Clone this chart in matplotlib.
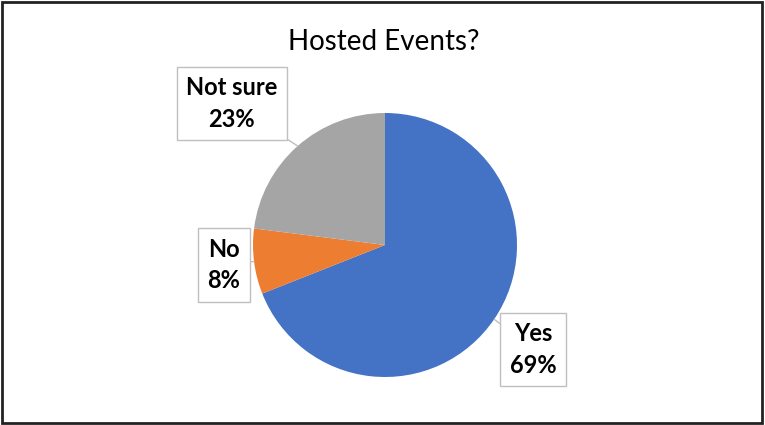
import numpy as np
import matplotlib
matplotlib.use("Agg")
import matplotlib.pyplot as plt
from matplotlib.patches import Rectangle

# -----------------------------
# Datos del grafico
# -----------------------------
categorias = ["Yes", "No", "Not sure"]
valores = [69, 8, 23]
colores = ["#4472C4", "#ED7D31", "#A5A5A5"]
titulo = "Hosted Events?"

# posiciones de las etiquetas (coordenadas del eje, radio = 1)
pos_etiquetas = [(1.12, -0.79), (-1.22, -0.15), (-1.16, 1.07)]

plt.rcParams['font.family'] = ['Lato', 'DejaVu Sans']

fig = plt.figure(figsize=(7.65, 4.25), dpi=100)
W, H = 765, 425
cx, cy, r = 385, 245, 132

ax = fig.add_axes([(cx - r) / W, (H - cy - r) / H, 2 * r / W, 2 * r / H])
wedges, _ = ax.pie(valores, colors=colores, startangle=90, counterclock=False,
                   radius=1, wedgeprops=dict(linewidth=0))
ax.set_xlim(-1, 1)
ax.set_ylim(-1, 1)
ax.set_aspect('equal')
ax.axis('off')

total = sum(valores)
for w, cat, val, (tx, ty) in zip(wedges, categorias, valores, pos_etiquetas):
    ang = np.deg2rad((w.theta1 + w.theta2) / 2)
    ex, ey = np.cos(ang), np.sin(ang)
    ax.annotate(f"{cat}\n{round(100 * val / total)}%", xy=(ex, ey), xytext=(tx, ty),
                ha='center', va='center', fontsize=17, fontweight='bold',
                color='black', linespacing=1.45, annotation_clip=False,
                bbox=dict(boxstyle='square,pad=0.4', fc='white', ec='#bfbfbf', lw=1),
                arrowprops=dict(arrowstyle='-', color='#bfbfbf', lw=1,
                                shrinkA=0, shrinkB=0))

fig.text(0.502, 1 - 42 / H, titulo, ha='center', va='center', fontsize=20, color='black')

# marco exterior
fig.patches.append(Rectangle((0.002, 0.004), 0.994, 0.992, transform=fig.transFigure,
                             fill=False, ec='#222222', lw=2))

fig.savefig("out.png", dpi=100)
